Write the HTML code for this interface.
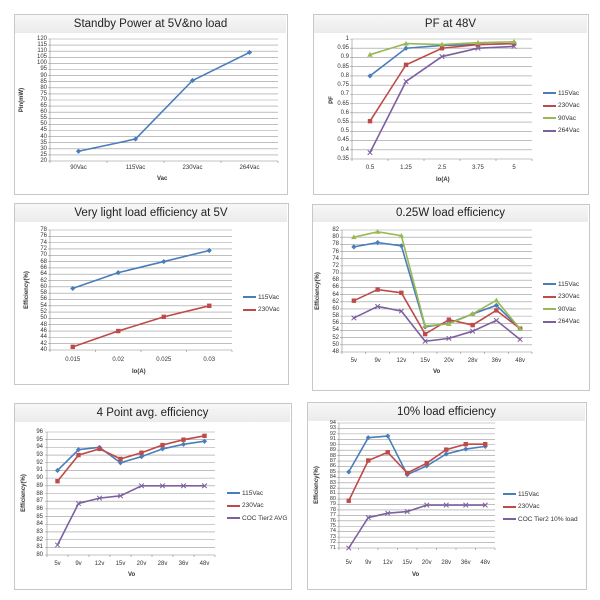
<!DOCTYPE html>
<html><head><meta charset="utf-8"><style>
body{margin:0;background:#fff;width:600px;height:600px;position:relative;overflow:hidden;font-family:"Liberation Sans",sans-serif;color:#333}
.p{position:absolute;border:1px solid #c8c8c8;background:#fff}
.tb{position:absolute;background:linear-gradient(#f7f7f7,#ebebeb);text-align:center;font-size:11.5px;color:#222}
.yt{position:absolute;display:flex;flex-direction:column;justify-content:space-between;align-items:flex-end;font-size:6px}
.yt span{height:0;line-height:0}
.xt{position:absolute;display:flex;font-size:6px}
.xt span{flex:1;text-align:center}
.at{position:absolute;font-size:6px;font-weight:bold}
.ay{position:absolute;font-size:6px;font-weight:bold;transform:rotate(-90deg);transform-origin:center;white-space:nowrap}
.lg{position:absolute;font-size:6.5px;white-space:nowrap}
.lg div{height:12.5px;display:flex;align-items:center}
.lg i{display:inline-block;width:13px;height:2px;margin-right:2px}
svg{position:absolute;left:0;top:0}
</style></head><body>
<div class="p" style="left:14px;top:14px;width:272px;height:179px"></div>
<div class="tb" style="left:15px;top:15px;width:271px;height:18px;line-height:18px">Standby Power at 5V&amp;no load</div>
<div class="p" style="left:313px;top:14px;width:274px;height:179px"></div>
<div class="tb" style="left:314px;top:15px;width:273px;height:18px;line-height:18px">PF at 48V</div>
<div class="p" style="left:14px;top:203px;width:273px;height:180px"></div>
<div class="tb" style="left:15px;top:204px;width:272px;height:18px;line-height:18px">Very light load efficiency at 5V</div>
<div class="p" style="left:312px;top:204px;width:276px;height:185px"></div>
<div class="tb" style="left:313px;top:205px;width:275px;height:17px;line-height:17px">0.25W load efficiency</div>
<div class="p" style="left:14px;top:403px;width:276px;height:185px"></div>
<div class="tb" style="left:15px;top:404px;width:275px;height:18px;line-height:18px">4 Point avg. efficiency</div>
<div class="p" style="left:307px;top:402px;width:278px;height:186px"></div>
<div class="tb" style="left:308px;top:403px;width:277px;height:18px;line-height:18px">10% load efficiency</div>

<svg id="s" width="600" height="600"></svg>

<!-- chart1 -->
<div class="yt" style="left:30px;top:39px;width:17px;height:122px"><span>120</span><span>115</span><span>110</span><span>105</span><span>100</span><span>95</span><span>90</span><span>85</span><span>80</span><span>75</span><span>70</span><span>65</span><span>60</span><span>55</span><span>50</span><span>45</span><span>40</span><span>35</span><span>30</span><span>25</span><span>20</span></div>
<div class="xt" style="left:50px;top:165px;width:228px"><span>90Vac</span><span>115Vac</span><span>230Vac</span><span>264Vac</span></div>
<div class="at" style="left:157px;top:176px">Vac</div>
<div class="ay" style="left:10px;top:97px">Pin(mW)</div>

<!-- chart2 -->
<div class="yt" style="left:330px;top:39px;width:19px;height:120px"><span>1</span><span>0.95</span><span>0.9</span><span>0.85</span><span>0.8</span><span>0.75</span><span>0.7</span><span>0.65</span><span>0.6</span><span>0.55</span><span>0.5</span><span>0.45</span><span>0.4</span><span>0.35</span></div>
<div class="xt" style="left:352px;top:165px;width:180px"><span>0.5</span><span>1.25</span><span>2.5</span><span>3.75</span><span>5</span></div>
<div class="at" style="left:436px;top:177px">Io(A)</div>
<div class="ay" style="left:328px;top:97px">PF</div>
<div class="lg" style="left:543px;top:87px"><div><i style="background:#4a7ebb"></i>115Vac</div><div><i style="background:#be4b48"></i>230Vac</div><div><i style="background:#98b954"></i>90Vac</div><div><i style="background:#7d60a0"></i>264Vac</div></div>

<!-- chart3 -->
<div class="yt" style="left:30px;top:230px;width:17px;height:120px"><span>78</span><span>76</span><span>74</span><span>72</span><span>70</span><span>68</span><span>66</span><span>64</span><span>62</span><span>60</span><span>58</span><span>56</span><span>54</span><span>52</span><span>50</span><span>48</span><span>46</span><span>44</span><span>42</span><span>40</span></div>
<div class="xt" style="left:50px;top:357px;width:182px"><span>0.015</span><span>0.02</span><span>0.025</span><span>0.03</span></div>
<div class="at" style="left:132px;top:369px">Io(A)</div>
<div class="ay" style="left:8px;top:287px">Efficiency(%)</div>
<div class="lg" style="left:243px;top:291px"><div><i style="background:#4a7ebb"></i>115Vac</div><div><i style="background:#be4b48"></i>230Vac</div></div>

<!-- chart4 -->
<div class="yt" style="left:322px;top:230px;width:17px;height:122px"><span>82</span><span>80</span><span>78</span><span>76</span><span>74</span><span>72</span><span>70</span><span>68</span><span>66</span><span>64</span><span>62</span><span>60</span><span>58</span><span>56</span><span>54</span><span>52</span><span>50</span><span>48</span></div>
<div class="xt" style="left:342px;top:358px;width:190px"><span>5v</span><span>9v</span><span>12v</span><span>15v</span><span>20v</span><span>28v</span><span>36v</span><span>48v</span></div>
<div class="at" style="left:433px;top:369px">Vo</div>
<div class="ay" style="left:299px;top:288px">Efficiency(%)</div>
<div class="lg" style="left:543px;top:278px"><div><i style="background:#4a7ebb"></i>115Vac</div><div><i style="background:#be4b48"></i>230Vac</div><div><i style="background:#98b954"></i>90Vac</div><div><i style="background:#7d60a0"></i>264Vac</div></div>

<!-- chart5 -->
<div class="yt" style="left:28px;top:432px;width:15px;height:123px"><span>96</span><span>95</span><span>94</span><span>93</span><span>92</span><span>91</span><span>90</span><span>89</span><span>88</span><span>87</span><span>86</span><span>85</span><span>84</span><span>83</span><span>82</span><span>81</span><span>80</span></div>
<div class="xt" style="left:47px;top:561px;width:168px"><span>5v</span><span>9v</span><span>12v</span><span>15v</span><span>20v</span><span>28v</span><span>36v</span><span>48v</span></div>
<div class="at" style="left:128px;top:572px">Vo</div>
<div class="ay" style="left:5px;top:490px">Efficiency(%)</div>
<div class="lg" style="left:227px;top:487px"><div><i style="background:#4a7ebb"></i>115Vac</div><div><i style="background:#be4b48"></i>230Vac</div><div><i style="background:#7d60a0"></i>COC Tier2 AVG</div></div>

<!-- chart6 -->
<div class="yt" style="left:324px;top:423px;width:12px;height:125px;font-size:5.5px"><span>94</span><span>93</span><span>92</span><span>91</span><span>90</span><span>89</span><span>88</span><span>87</span><span>86</span><span>85</span><span>84</span><span>83</span><span>82</span><span>81</span><span>80</span><span>79</span><span>78</span><span>77</span><span>76</span><span>75</span><span>74</span><span>73</span><span>72</span><span>71</span></div>
<div class="xt" style="left:339px;top:560px;width:156px"><span>5v</span><span>9v</span><span>12v</span><span>15v</span><span>20v</span><span>28v</span><span>36v</span><span>48v</span></div>
<div class="at" style="left:412px;top:572px">Vo</div>
<div class="ay" style="left:298px;top:482px">Efficiency(%)</div>
<div class="lg" style="left:503px;top:488px"><div><i style="background:#4a7ebb"></i>115Vac</div><div><i style="background:#be4b48"></i>230Vac</div><div><i style="background:#7d60a0"></i>COC Tier2 10% load</div></div>

<script>
var B='#4a7ebb',R='#be4b48',G='#98b954',P='#7d60a0';
var charts=[
{L:50,T:39,Rr:278,Bt:161,y0:20,y1:120,st:5,n:4,s:[[B,'d',[28,38,86,109]]]},
{L:352,T:39,Rr:532,Bt:159,y0:.35,y1:1,st:.05,n:5,s:[[B,'d',[.80,.95,.965,.97,.975]],[R,'s',[.555,.86,.95,.97,.975]],[G,'t',[.915,.975,.97,.98,.985]],[P,'x',[.385,.77,.905,.95,.96]]]},
{L:50,T:230,Rr:232,Bt:350,y0:40,y1:78,st:2,n:4,s:[[B,'d',[59.5,64.5,68,71.5]],[R,'s',[41,46,50.5,54]]]},
{L:342,T:230,Rr:532,Bt:352,y0:48,y1:82,st:2,n:8,s:[[B,'d',[77.3,78.5,77.6,55,56,58.6,61,54.5]],[R,'s',[62.3,65.4,64.5,53,57,55.5,59.6,54.5]],[G,'t',[80,81.5,80.4,55.3,55.8,58.6,62.4,54.4]],[P,'x',[57.5,60.7,59.4,51,51.8,53.8,56.8,51.5]]]},
{L:47,T:432,Rr:215,Bt:555,y0:80,y1:96,st:1,n:8,s:[[B,'d',[91,93.7,94,92,92.8,93.8,94.4,94.8]],[R,'s',[89.6,93,93.8,92.5,93.3,94.3,95,95.5]],[P,'x',[81.3,86.7,87.4,87.7,89,89,89,89]]]},
{L:339,T:423,Rr:495,Bt:548,y0:71,y1:94,st:1,n:8,s:[[B,'d',[85,91.3,91.6,84.5,86.1,88.3,89.2,89.7]],[R,'s',[79.7,87.1,88.6,84.8,86.6,89.1,90.1,90.1]],[P,'x',[71,76.6,77.4,77.7,78.9,78.9,78.9,78.9]]]}
];
var h='';
function mk(c,m,x,y){
 if(m=='d')return '<path d="M'+x+' '+(y-2.6)+'L'+(x+2.6)+' '+y+'L'+x+' '+(y+2.6)+'L'+(x-2.6)+' '+y+'Z" fill="'+c+'"/>';
 if(m=='s')return '<rect x="'+(x-2.2)+'" y="'+(y-2.2)+'" width="4.4" height="4.4" fill="'+c+'"/>';
 if(m=='t')return '<path d="M'+x+' '+(y-2.8)+'L'+(x+2.8)+' '+(y+2)+'L'+(x-2.8)+' '+(y+2)+'Z" fill="'+c+'"/>';
 return '<path d="M'+(x-2.3)+' '+(y-2.3)+'L'+(x+2.3)+' '+(y+2.3)+'M'+(x+2.3)+' '+(y-2.3)+'L'+(x-2.3)+' '+(y+2.3)+'" stroke="'+c+'" stroke-width="1"/>';
}
charts.forEach(function(c){
 var k=Math.round((c.y1-c.y0)/c.st);
 for(var i=0;i<=k;i++){var y=c.Bt-(c.Bt-c.T)*i/k;h+='<line x1="'+(c.L-2)+'" x2="'+c.Rr+'" y1="'+y+'" y2="'+y+'" stroke="'+(i==0?'#888':'#999')+'" stroke-width="0.6"/>';}
 h+='<line x1="'+c.L+'" x2="'+c.L+'" y1="'+c.T+'" y2="'+c.Bt+'" stroke="#888" stroke-width="0.6"/>';
 var bw=(c.Rr-c.L)/c.n;
 for(var i=0;i<=c.n;i++){var x=c.L+i*bw;h+='<line x1="'+x+'" x2="'+x+'" y1="'+c.Bt+'" y2="'+(c.Bt+2)+'" stroke="#888" stroke-width="0.6"/>';}
 c.s.forEach(function(s){
  var pts=s[2].map(function(v,i){return [c.L+(i+.5)*bw,c.Bt-(v-c.y0)/(c.y1-c.y0)*(c.Bt-c.T)];});
  h+='<polyline fill="none" stroke="'+s[0]+'" stroke-width="1.6" points="'+pts.map(function(p){return p.join(',')}).join(' ')+'"/>';
  pts.forEach(function(p){h+=mk(s[0],s[1],p[0],p[1]);});
 });
});
document.getElementById('s').innerHTML=h;
</script>
</body></html>
